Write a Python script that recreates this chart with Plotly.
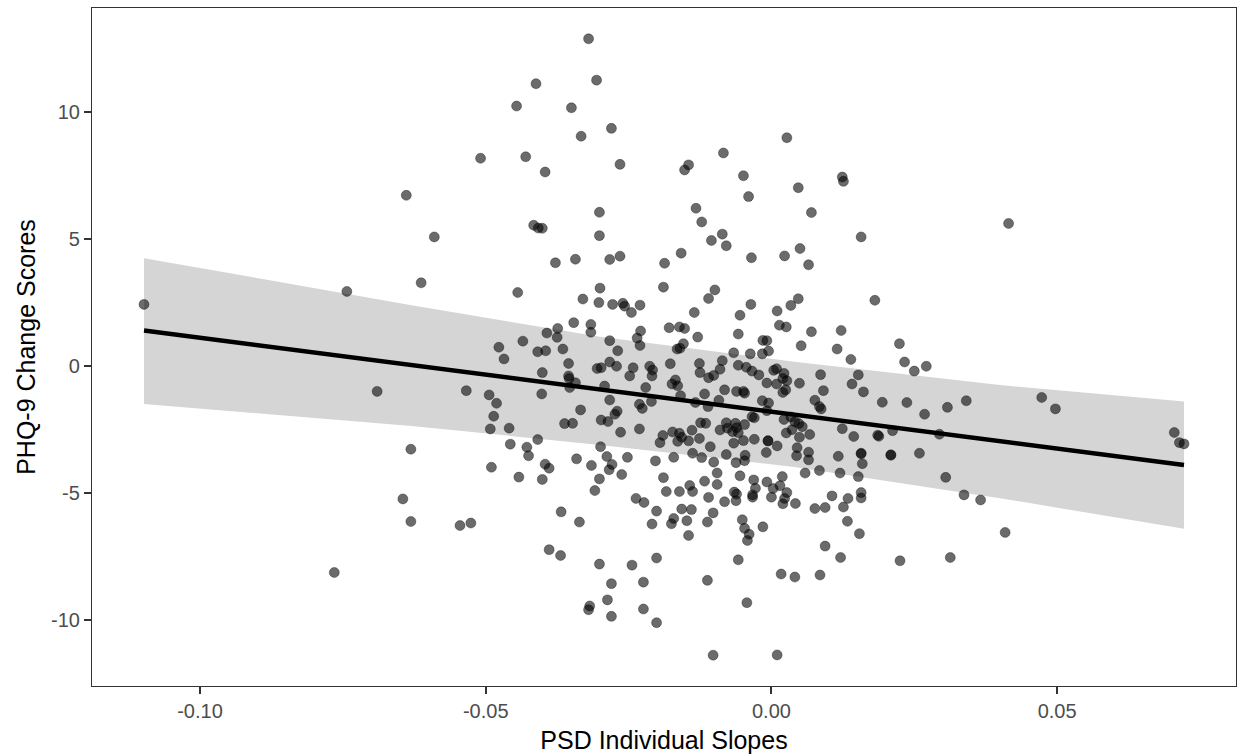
import numpy as np
import plotly.graph_objects as go

# PSD individual slopes (x) and PHQ-9 change scores (y)
psd_slopes = [
    -0.1098, -0.0743, -0.0639, -0.0690, -0.0631, -0.0645, -0.0631, -0.0765,
    -0.0320, -0.0306, -0.0412, -0.0446, -0.0350, -0.0280, -0.0333, -0.0509, -0.0430, -0.0396,
    -0.0301, -0.0416, -0.0408, -0.0401, -0.0590, -0.0301,
    -0.0378, -0.0343, -0.0283, -0.0613, -0.0444, -0.0300, -0.0330, -0.0302, -0.0346, -0.0316,
    -0.0316, -0.0374, -0.0393, -0.0375, -0.0435, -0.0477, -0.0409, -0.0395, -0.0365, -0.0468,
    -0.0355, -0.0305, -0.0298, -0.0283, -0.0401, -0.0355, -0.0354, -0.0343, -0.0353, -0.0292,
    -0.0283, -0.0534, -0.0494, -0.0402, -0.0481, -0.0486, -0.0492, -0.0459, -0.0334, -0.0362,
    -0.0348, -0.0298, -0.0286, -0.0409, -0.0457, -0.0428, -0.0299,
    -0.0425, -0.0490, -0.0442, -0.0396, -0.0389, -0.0401, -0.0341, -0.0315, -0.0288, -0.0284,
    -0.0301, -0.0309, -0.0545, -0.0526, -0.0368, -0.0336, -0.0389, -0.0369, -0.0301, -0.0280,
    -0.0287, -0.0318, -0.0320, -0.0280,
    -0.0265, -0.0265, -0.0158, -0.0152, -0.0145, -0.0084, -0.0049, -0.0040, 0.0027, 0.0047,
    -0.0132, -0.0122, -0.0086, -0.0105, -0.0079, -0.0035, 0.0023, 0.0050,
    -0.0187, -0.0189, -0.0099, -0.0110, -0.0278, -0.0260, -0.0257, -0.0245, -0.0230, -0.0135,
    -0.0036, -0.0055, 0.0010, 0.0034, 0.0047, 0.0014, 0.0026, -0.0179, -0.0161, -0.0152,
    -0.0229, -0.0235, -0.0230, -0.0283, -0.0269, -0.0129, -0.0058, -0.0015, -0.0008, -0.0154,
    -0.0160, -0.0165, -0.0005, -0.0066, -0.0037, -0.0016, -0.0086, -0.0271, -0.0242, -0.0248,
    -0.0213, -0.0208, -0.0209, -0.0177, -0.0126, -0.0125, -0.0110, -0.0101, -0.0090, -0.0058,
    -0.0044, -0.0034, -0.0022, 0.0004, 0.0009, 0.0022, 0.0020, 0.0027, -0.0008, 0.0009,
    0.0049, 0.0020, 0.0025, -0.0220, -0.0168, -0.0164, -0.0174, -0.0159, -0.0117, -0.0082,
    -0.0061, -0.0049, -0.0047, -0.0092, -0.0231, -0.0226, -0.0210, -0.0270, -0.0274, -0.0264,
    -0.0231, -0.0190, -0.0195, -0.0173, -0.0161, -0.0157, -0.0164, -0.0145, -0.0139, -0.0126,
    -0.0124, -0.0115, -0.0111, -0.0133, -0.0107, -0.0090, -0.0079, -0.0077, -0.0068, -0.0063,
    -0.0061, -0.0058, -0.0047, -0.0066, -0.0049, -0.0030, -0.0034, -0.0030, -0.0016, -0.0005,
    -0.0008, 0.0022, 0.0034, 0.0041, 0.0048, 0.0026, 0.0036, -0.0006, -0.0006, 0.0045,
    0.0010, -0.0279, -0.0262, -0.0252, -0.0203, -0.0171, -0.0138, -0.0122, -0.0101, -0.0095,
    -0.0079, -0.0062, -0.0047, -0.0046, -0.0009, -0.0189, -0.0184, -0.0161, -0.0143, -0.0138,
    -0.0117, -0.0095, -0.0110, -0.0082, -0.0065, -0.0061, -0.0062, -0.0055, -0.0031, -0.0028,
    -0.0033, -0.0033, -0.0008, 0.0003, 0.0000, 0.0015, 0.0019, 0.0027, 0.0023, 0.0020,
    0.0042, 0.0044, -0.0237, -0.0223, -0.0201, -0.0209, -0.0171, -0.0175, -0.0157, -0.0140,
    -0.0148, -0.0145, -0.0112, -0.0102, -0.0051, -0.0047, -0.0039, -0.0042, -0.0015, -0.0244,
    -0.0201, -0.0224, -0.0224, -0.0201, -0.0112, -0.0058, -0.0043, 0.0017, -0.0102, 0.0010,
    0.0124, 0.0126, 0.0070, 0.0157, 0.0415, 0.0065, 0.0181, 0.0070, 0.0122, 0.0052,
    0.0115, 0.0224,
    0.0139, 0.0233, 0.0250, 0.0271, 0.0086, 0.0091, 0.0152, 0.0141, 0.0161, 0.0076,
    0.0084, 0.0087, 0.0194, 0.0237, 0.0268, 0.0308, 0.0341, 0.0054, 0.0049, 0.0067,
    0.0124, 0.0144, 0.0186, 0.0188, 0.0212, 0.0294, 0.0065, 0.0065, 0.0117, 0.0157,
    0.0157, 0.0159, 0.0209, 0.0209, 0.0259, 0.0059, 0.0084, 0.0120, 0.0152, 0.0305,
    0.0106, 0.0134, 0.0157, 0.0157, 0.0076, 0.0094, 0.0126, 0.0133, 0.0154, 0.0094,
    0.0121, 0.0041, 0.0085, 0.0225, 0.0313, 0.0337, 0.0366, 0.0409,
    0.0473, 0.0497, 0.0705, 0.0714, 0.0722,
]

phq9_change = [
    2.43, 2.94, 6.73, -1.00, -3.28, -5.24, -6.13, -8.14,
    12.90, 11.27, 11.13, 10.25, 10.18, 9.37, 9.06, 8.19, 8.25, 7.65,
    6.06, 5.55, 5.44, 5.43, 5.09, 5.14,
    4.07, 4.21, 4.20, 3.28, 2.90, 3.07, 2.64, 2.50, 1.71, 1.64,
    1.33, 1.48, 1.30, 1.13, 0.98, 0.74, 0.56, 0.60, 0.67, 0.28,
    0.10, -0.10, -0.07, 0.16, -0.26, -0.39, -0.49, -0.66, -0.85, -0.79,
    -1.34, -0.97, -1.14, -1.10, -1.47, -1.98, -2.48, -2.45, -1.73, -2.27,
    -2.26, -2.13, -2.19, -2.90, -3.08, -3.20, -3.18,
    -3.54, -3.99, -4.38, -3.87, -4.03, -4.47, -3.66, -3.92, -3.57, -4.09,
    -4.45, -4.91, -6.29, -6.19, -5.75, -6.15, -7.24, -7.47, -7.81, -8.58,
    -9.22, -9.46, -9.61, -9.87,
    7.95, 4.33, 4.45, 7.73, 7.93, 8.40, 7.50, 6.68, 9.00, 7.03,
    6.22, 5.68, 5.20, 4.95, 4.74, 4.27, 4.34, 4.63,
    4.05, 3.11, 3.00, 2.66, 2.43, 2.47, 2.36, 2.11, 2.40, 2.11,
    2.43, 2.00, 2.17, 2.39, 2.65, 1.61, 1.54, 1.51, 1.54, 1.48,
    1.38, 1.10, 0.81, 1.00, 0.60, 1.14, 1.26, 1.01, 1.00, 0.88,
    0.70, 0.67, 0.59, 0.52, 0.48, 0.48, 0.21, -0.01, -0.07, -0.39,
    -0.01, -0.16, -0.39, 0.09, 0.10, -0.26, -0.46, -0.37, -0.13, 0.03,
    -0.05, -0.20, -0.35, -0.17, -0.11, -0.29, -0.49, -0.58, -0.67, -0.71,
    -0.68, -1.04, -0.94, -0.85, -0.55, -0.78, -0.71, -1.17, -1.10, -0.94,
    -1.00, -1.00, -1.07, -1.35, -1.51, -1.67, -1.40, -1.78, -1.90, -2.61,
    -2.48, -2.74, -3.02, -2.60, -2.65, -2.81, -2.97, -2.95, -2.53, -2.86,
    -2.24, -2.26, -1.60, -1.44, -3.18, -2.52, -2.24, -2.45, -2.59, -2.26,
    -2.43, -2.63, -2.31, -3.04, -2.94, -2.89, -2.00, -2.04, -1.37, -1.46,
    -1.76, -2.11, -2.01, -2.20, -2.27, -2.64, -2.51, -2.94, -2.96, -3.22,
    -3.15, -3.88, -4.28, -3.60, -3.74, -3.60, -3.44, -3.61, -3.79, -4.22,
    -3.49, -3.81, -3.73, -3.52, -3.41, -4.40, -4.95, -4.95, -4.71, -4.95,
    -4.54, -4.67, -5.18, -5.35, -4.97, -5.05, -5.31, -4.33, -4.49, -4.82,
    -5.08, -5.17, -4.57, -4.83, -5.17, -4.72, -4.36, -4.99, -5.22, -5.43,
    -5.42, -3.54, -5.22, -5.38, -5.72, -6.23, -6.01, -6.22, -5.64, -5.66,
    -6.10, -6.68, -6.15, -5.79, -6.06, -6.40, -6.63, -6.88, -6.34, -7.85,
    -7.57, -8.52, -9.58, -10.12, -8.45, -7.64, -9.33, -8.20, -11.40, -11.39,
    7.45, 7.28, 6.05, 5.09, 5.62, 3.99, 2.59, 1.35, 1.40, 0.80,
    0.67, 0.88,
    0.26, 0.16, -0.20, -0.01, -0.34, -0.97, -0.35, -0.71, -1.02, -1.35,
    -1.60, -1.69, -1.43, -1.44, -1.90, -1.63, -1.37, -2.39, -2.81, -2.70,
    -2.47, -2.78, -2.73, -2.77, -2.55, -2.69, -3.40, -3.70, -3.56, -3.44,
    -3.46, -3.85, -3.52, -3.50, -3.44, -4.22, -4.12, -4.22, -4.36, -4.39,
    -5.12, -5.22, -4.99, -5.20, -5.62, -5.58, -5.56, -6.12, -6.61, -7.10,
    -7.55, -8.32, -8.24, -7.68, -7.55, -5.08, -5.28, -6.56,
    -1.24, -1.69, -2.62, -3.02, -3.07,
]

# fitted line and its confidence band
smooth_x = [-0.1098, -0.0630, -0.0300, 0.0040, 0.0400, 0.0722]
smooth_fit = [1.40, 0.04, -0.93, -1.92, -2.97, -3.90]
smooth_upper = [4.25, 2.40, 1.15, 0.17, -0.75, -1.40]
smooth_lower = [-1.50, -2.36, -3.11, -3.98, -5.21, -6.42]

x_tick_vals = [-0.10, -0.05, 0.00, 0.05]
x_tick_text = ["-0.10", "-0.05", "0.00", "0.05"]
y_tick_vals = [-10, -5, 0, 5, 10]
y_tick_text = ["-10", "-5", "0", "5", "10"]

x = np.array(psd_slopes, dtype=float)
y = np.array(phq9_change, dtype=float)

xr = x.max() - x.min()
yr = y.max() - y.min()
x_range = [x.min() - 0.05 * xr, x.max() + 0.05 * xr]
y_range = [y.min() - 0.05 * yr, y.max() + 0.05 * yr]

fig = go.Figure()
fig.add_trace(go.Scatter(
    x=smooth_x + smooth_x[::-1],
    y=smooth_upper + smooth_lower[::-1],
    fill="toself", fillcolor="#D5D5D5", line=dict(width=0),
    mode="lines", hoverinfo="skip", showlegend=False,
))
fig.add_trace(go.Scatter(
    x=x, y=y, mode="markers", showlegend=False,
    marker=dict(size=10, color="rgba(0,0,0,0.58)",
                line=dict(width=1, color="rgba(0,0,0,0.32)")),
))
fig.add_trace(go.Scatter(
    x=smooth_x, y=smooth_fit, mode="lines", showlegend=False,
    line=dict(color="black", width=4.5),
))

axis_common = dict(
    showgrid=False, zeroline=False, showline=True, mirror=True,
    linecolor="#333333", linewidth=1.2,
    ticks="outside", ticklen=7, tickwidth=1.6, tickcolor="#333333",
    tickfont=dict(family="Liberation Sans, Arial, sans-serif", size=20, color="#4D4D4D"),
    automargin=False,
)

fig.update_layout(
    width=1238, height=754,
    paper_bgcolor="white", plot_bgcolor="white",
    margin=dict(l=92, r=2, t=8, b=68),
    font=dict(family="Liberation Sans, Arial, sans-serif"),
    xaxis=dict(axis_common, range=x_range, tickvals=x_tick_vals, ticktext=x_tick_text,
               title=dict(text="PSD Individual Slopes", standoff=10,
                          font=dict(size=25, color="black"))),
    yaxis=dict(axis_common, range=y_range, tickvals=y_tick_vals, ticktext=y_tick_text,
               title=dict(text="PHQ-9 Change Scores", standoff=8,
                          font=dict(size=25, color="black"))),
)

fig.write_html("out.html")
